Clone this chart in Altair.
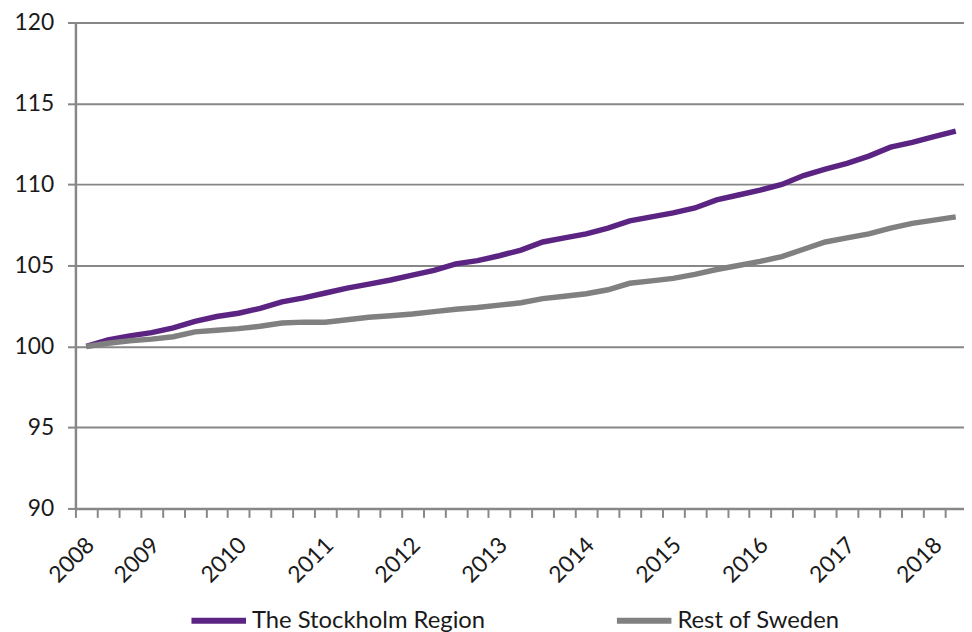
import altair as alt
import pandas as pd

quarters = [
    "2008Q2", "2008Q3", "2008Q4",
    "2009Q1", "2009Q2", "2009Q3", "2009Q4",
    "2010Q1", "2010Q2", "2010Q3", "2010Q4",
    "2011Q1", "2011Q2", "2011Q3", "2011Q4",
    "2012Q1", "2012Q2", "2012Q3", "2012Q4",
    "2013Q1", "2013Q2", "2013Q3", "2013Q4",
    "2014Q1", "2014Q2", "2014Q3", "2014Q4",
    "2015Q1", "2015Q2", "2015Q3", "2015Q4",
    "2016Q1", "2016Q2", "2016Q3", "2016Q4",
    "2017Q1", "2017Q2", "2017Q3", "2017Q4",
    "2018Q1", "2018Q2",
]

# axis label shown under each quarter ('' = no label)
tick_labels = [
    "2008", "", "",
    "2009", "", "", "",
    "2010", "", "", "",
    "2011", "", "", "",
    "2012", "", "", "",
    "2013", "", "", "",
    "2014", "", "", "",
    "2015", "", "", "",
    "2016", "", "", "",
    "2017", "", "", "",
    "2018", "",
]

stockholm = [
    100.0, 100.4, 100.65,
    100.85, 101.15, 101.55, 101.85,
    102.05, 102.35, 102.75, 103.0,
    103.3, 103.6, 103.85, 104.1,
    104.4, 104.7, 105.1, 105.3,
    105.6, 105.95, 106.45, 106.7,
    106.95, 107.3, 107.75, 108.0,
    108.25, 108.55, 109.05, 109.35,
    109.65, 110.0, 110.55, 110.95,
    111.3, 111.75, 112.3, 112.6,
    112.95, 113.3,
]

rest_of_sweden = [
    100.0, 100.2, 100.35,
    100.45, 100.6, 100.9, 101.0,
    101.1, 101.25, 101.45, 101.5,
    101.5, 101.65, 101.8, 101.9,
    102.0, 102.15, 102.3, 102.4,
    102.55, 102.7, 102.95, 103.1,
    103.25, 103.5, 103.9, 104.05,
    104.2, 104.45, 104.75, 105.0,
    105.25, 105.55, 106.0, 106.45,
    106.7, 106.95, 107.3, 107.6,
    107.8, 108.0,
]

series_names = ["The Stockholm Region", "Rest of Sweden"]
series_colors = ["#5C2482", "#808080"]
y_ticks = [90, 95, 100, 105, 110, 115, 120]

n = len(quarters)
idx = list(range(n))
df = pd.DataFrame({
    "i": idx + idx,
    "quarter": quarters + quarters,
    "value": stockholm + rest_of_sweden,
    "series": [series_names[0]] * n + [series_names[1]] * n,
})

FONT = "Lato"
GRID = "#878787"
W = 896
H = 490
X_MAX = 40.38          # the reference plot is cut just before the last slot ends
band = W / (X_MAX + 0.5)
SYM = 55               # legend line length

labels_js = "[" + ",".join("'" + s + "'" for s in tick_labels) + "]"
label_expr = labels_js + "[datum.value]"

chart = alt.Chart(df).mark_line(strokeWidth=5.5).encode(
    x=alt.X(
        "i:Q",
        scale=alt.Scale(domain=[-0.5, X_MAX], nice=False, zero=False),
        axis=alt.Axis(
            title=None,
            values=idx,
            labelExpr=label_expr,
            labelAngle=-45,
            labelAlign="right",
            labelBaseline="middle",
            labelFont=FONT,
            labelFontSize=23,
            labelColor="#1a1a1a",
            labelPadding=24,
            labelOverlap=False,
            labelFlush=False,
            tickOffset=-band / 2,
            labelOffset=band / 2 + 4,
            tickSize=9,
            tickColor=GRID,
            tickWidth=2,
            domainColor=GRID,
            domainWidth=2.5,
            grid=False,
        ),
    ),
    y=alt.Y(
        "value:Q",
        scale=alt.Scale(domain=[90, 120], nice=False, zero=False),
        axis=alt.Axis(
            title=None,
            values=y_ticks,
            labelFont=FONT,
            labelFontSize=23,
            labelColor="#1a1a1a",
            labelPadding=14,
            tickSize=8,
            tickColor=GRID,
            tickWidth=2,
            domainColor=GRID,
            domainWidth=2.5,
            grid=True,
            gridColor=GRID,
            gridWidth=2,
        ),
    ),
    color=alt.Color(
        "series:N",
        sort=series_names,
        scale=alt.Scale(domain=series_names, range=series_colors),
        legend=alt.Legend(
            title=None,
            orient="none",
            legendX=114,
            legendY=H + 110 - SYM / 2,
            direction="horizontal",
            columnPadding=120,
            symbolType="stroke",
            symbolSize=SYM * SYM,
            symbolStrokeWidth=6,
            labelFont=FONT,
            labelFontSize=24,
            labelColor="#1a1a1a",
            labelLimit=600,
            labelOffset=3,
            padding=0,
        ),
    ),
).properties(
    width=W,
    height=H,
    autosize=alt.AutoSizeParams(type="none"),
    padding={"left": 68, "top": 12, "right": 0, "bottom": 122},
).configure_view(stroke=None)

chart.save("out.html", embed_options={"renderer": "svg", "actions": False})
